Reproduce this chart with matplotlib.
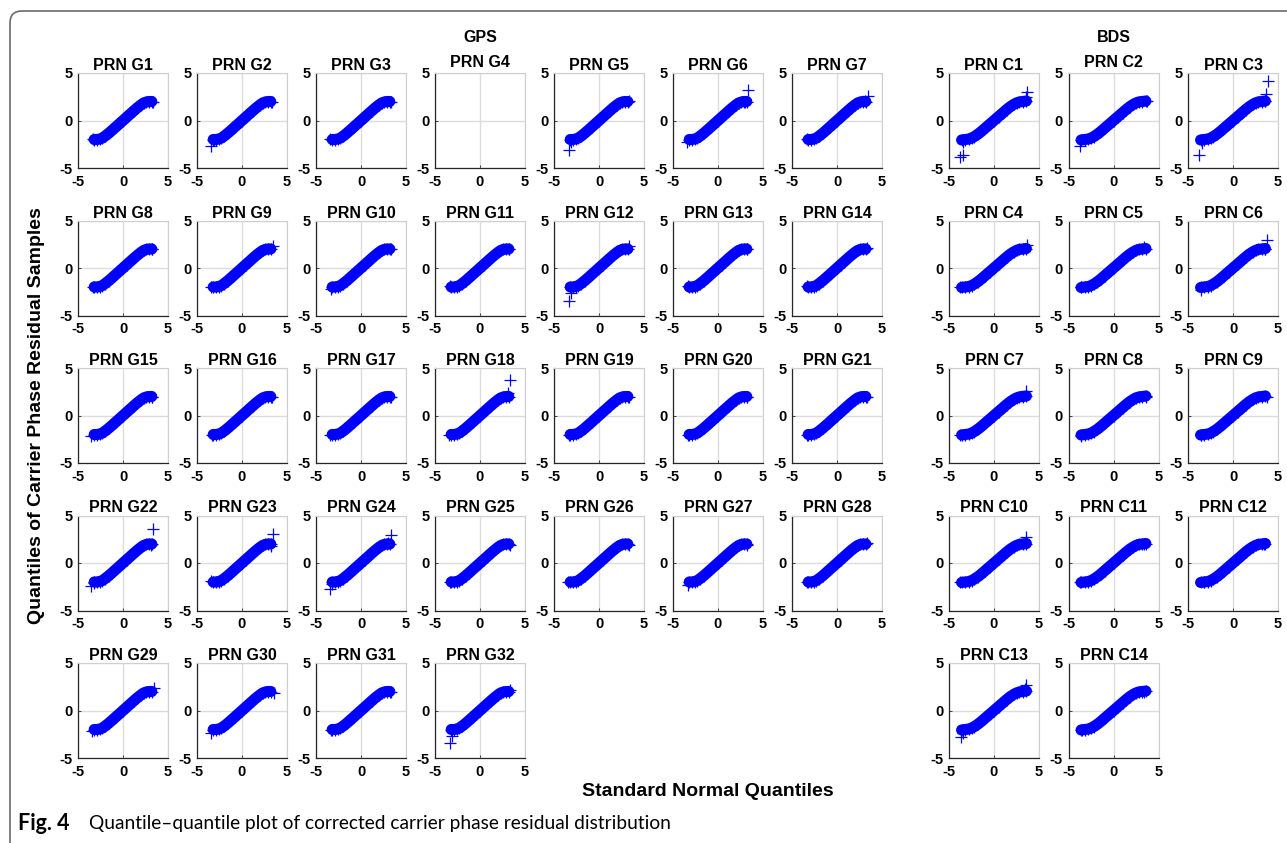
import numpy as np
import matplotlib
matplotlib.use("Agg")
from matplotlib import pyplot as plt
from matplotlib.patches import FancyBboxPatch

# common body of the sample quantiles
GPS_BODY_X = [-3.2, -2.9, -2.6, -2.3, -2.0, -1.6, -1.2, -0.8, -0.4, 0.0,
              0.4, 0.8, 1.2, 1.6, 2.0, 2.3, 2.6, 2.9, 3.2]
GPS_BODY_Y = [-2.0, -2.0, -1.95, -1.85, -1.65, -1.35, -1.02, -0.68, -0.34, 0.0,
              0.34, 0.68, 1.02, 1.35, 1.65, 1.85, 1.95, 2.0, 2.0]
BDS_BODY_X = [-3.6, -3.2, -2.8, -2.5, -2.2, -1.8, -1.4, -1.0, -0.5, 0.0,
              0.5, 1.0, 1.4, 1.8, 2.2, 2.5, 2.8, 3.2, 3.6]
BDS_BODY_Y = [-2.05, -2.0, -1.95, -1.85, -1.7, -1.45, -1.15, -0.82, -0.41, 0.0,
              0.41, 0.82, 1.15, 1.45, 1.7, 1.85, 1.95, 2.0, 2.05]

GPS_PRN = ["G%d" % i for i in range(1, 33)]
BDS_PRN = ["C%d" % i for i in range(1, 15)]
EMPTY = ["G4"]

# extreme points at the lower end (x, y)
LOW_TAIL = {
    "G1": [(-3.3, -1.9)], "G2": [(-3.44, -2.7), (-3.1, -2.1)], "G3": [(-3.44, -1.93)],
    "G5": [(-3.38, -3.1), (-3.16, -2.25)], "G6": [(-3.42, -2.28)], "G7": [(-3.35, -1.9)],
    "G8": [(-3.33, -2.0)], "G9": [(-3.44, -2.0)], "G10": [(-3.37, -2.2)],
    "G11": [(-3.35, -1.93)], "G12": [(-3.38, -3.5), (-3.1, -2.6)], "G13": [(-3.3, -1.93)],
    "G14": [(-3.35, -1.93)],
    "G15": [(-3.52, -2.2)], "G16": [(-3.33, -2.0)], "G17": [(-3.44, -2.0)],
    "G18": [(-3.42, -2.03)], "G19": [(-3.35, -2.03)], "G20": [(-3.3, -2.03)],
    "G21": [(-3.35, -2.03)],
    "G22": [(-3.52, -2.4), (-3.26, -2.1)], "G23": [(-3.44, -1.93)],
    "G24": [(-3.44, -2.7), (-3.26, -2.2)], "G25": [(-3.3, -2.0)], "G26": [(-3.46, -2.0)],
    "G27": [(-3.3, -2.3)], "G28": [(-3.35, -2.0)],
    "G29": [(-3.5, -2.18)], "G30": [(-3.5, -2.36)], "G31": [(-3.35, -2.0)],
    "G32": [(-3.35, -3.4), (-3.1, -2.7)],
    "C1": [(-3.77, -3.86), (-3.4, -3.6), (-3.4, -2.3)], "C2": [(-3.77, -2.7)],
    "C3": [(-3.74, -3.6), (-3.5, -2.35)],
    "C4": [(-3.81, -2.0)], "C5": [(-3.63, -2.0)], "C6": [(-3.52, -2.28)],
    "C7": [(-3.81, -2.03)], "C8": [(-3.63, -2.2)], "C9": [(-3.52, -2.03)],
    "C10": [(-3.74, -2.03)], "C11": [(-3.74, -2.03)], "C12": [(-3.26, -2.03)],
    "C13": [(-3.7, -2.74), (-3.45, -2.4)], "C14": [(-3.5, -2.0)],
}

# extreme points at the upper end (x, y)
HIGH_TAIL = {
    "G1": [(3.33, 2.0)], "G2": [(3.33, 2.0)], "G3": [(3.3, 2.0)],
    "G5": [(3.35, 2.03)], "G6": [(3.38, 3.2), (3.0, 2.0)], "G7": [(3.46, 2.63), (3.1, 2.05)],
    "G8": [(3.26, 2.0)], "G9": [(3.44, 2.35)], "G10": [(3.3, 2.0)],
    "G11": [(3.27, 2.0)], "G12": [(3.35, 2.28)], "G13": [(3.27, 2.0)], "G14": [(3.35, 2.1)],
    "G15": [(3.26, 2.0)], "G16": [(3.33, 2.0)], "G17": [(3.3, 2.0)],
    "G18": [(3.35, 3.75), (3.1, 2.35)], "G19": [(3.35, 2.0)], "G20": [(3.27, 2.0)],
    "G21": [(3.38, 2.0)],
    "G22": [(3.33, 3.6), (3.15, 1.9)], "G23": [(3.44, 3.05), (3.2, 1.8)],
    "G24": [(3.3, 2.9), (3.05, 2.1)], "G25": [(3.3, 1.93)], "G26": [(3.3, 1.93)],
    "G27": [(3.27, 1.93)], "G28": [(3.35, 2.1)],
    "G29": [(3.4, 2.4)], "G30": [(3.5, 1.87)], "G31": [(3.35, 1.94)], "G32": [(3.35, 2.15)],
    "C1": [(3.7, 3.0), (3.5, 2.5)], "C2": [(3.7, 2.03)],
    "C3": [(3.84, 4.2), (3.64, 2.8), (3.55, 2.1)],
    "C4": [(3.67, 2.46)], "C5": [(3.4, 2.18)], "C6": [(3.78, 2.98), (3.6, 2.0)],
    "C7": [(3.6, 2.53)], "C8": [(3.6, 2.0)], "C9": [(3.78, 2.0)],
    "C10": [(3.6, 2.7)], "C11": [(3.4, 2.0)], "C12": [(3.4, 2.0)],
    "C13": [(3.6, 2.7), (3.4, 2.25)], "C14": [(3.4, 1.93)],
}

W, H = 1287, 843
FONT = "Liberation Sans"
BLUE = "#0000ff"

plt.rcParams["axes.unicode_minus"] = False
plt.rcParams["font.family"] = FONT
plt.rcParams["font.weight"] = "bold"

fig = plt.figure(figsize=(W / 100, H / 100), dpi=100)
fig.patch.set_facecolor("white")

# rounded frame around the figure
bg = fig.add_axes([0, 0, 1, 1], zorder=-1)
bg.set_xlim(0, W)
bg.set_ylim(H, 0)
bg.axis("off")
bg.add_patch(FancyBboxPatch((10, 11), 1320, 880, boxstyle="round,pad=0,rounding_size=12",
                            facecolor="none", edgecolor="#6b6b6b", linewidth=1.2))


def make_axes(left, top):
    return fig.add_axes([left / W, 1 - (top + 95) / H, 90 / W, 95 / H])


def draw_panel(ax, prn, body_x, body_y):
    ax.set_xlim(-5, 5)
    ax.set_ylim(-5, 5)
    ax.set_xticks([-5, 0, 5])
    ax.set_yticks([-5, 0, 5])
    ax.grid(True, color="#dcdcdc", linewidth=1.0)
    ax.set_axisbelow(True)
    for s in ["top", "right"]:
        ax.spines[s].set_color("#cfcfcf")
        ax.spines[s].set_linewidth(0.8)
    for s in ["left", "bottom"]:
        ax.spines[s].set_color("#262626")
        ax.spines[s].set_linewidth(0.9)
    ax.tick_params(direction="in", length=2, width=0.6, colors="#262626",
                   labelcolor="black", labelsize=10.5)
    ax.tick_params(axis="y", pad=4)
    ax.tick_params(axis="x", pad=5)
    if prn in EMPTY:
        return
    lx = [p[0] for p in LOW_TAIL[prn]]
    ly = [p[1] for p in LOW_TAIL[prn]]
    hx = [p[0] for p in HIGH_TAIL[prn]]
    hy = [p[1] for p in HIGH_TAIL[prn]]
    xs = np.array(lx[::-1] + body_x + hx)
    ys = np.array(ly[::-1] + body_y + hy)
    # reference line through the quartiles
    q1, q3 = -0.6745, 0.6745
    y1, y3 = np.interp([q1, q3], body_x, body_y)
    k = (y3 - y1) / (q3 - q1)
    ex = np.array([-2.8, 2.8])
    ax.plot(ex, y1 + k * (ex - q1), color="red", linewidth=0.8, linestyle="-.", zorder=2)
    ax.plot(body_x, body_y, color=BLUE, linewidth=8, solid_capstyle="round", zorder=3)
    ax.plot(xs, ys, "+", color=BLUE, markersize=8, markeredgewidth=0.9, zorder=4)


gps_lefts = [78 + 119 * i for i in range(7)]
bds_lefts = [949 + 119.5 * i for i in range(3)]
row_tops = [73 + 147.5 * j for j in range(5)]

for n, prn in enumerate(GPS_PRN):
    r, c = divmod(n, 7)
    ax = make_axes(gps_lefts[c], row_tops[r])
    draw_panel(ax, prn, GPS_BODY_X, GPS_BODY_Y)
    pad = 4.5 if prn == "G4" else 1.5
    ax.set_title("PRN " + prn, fontweight="bold", fontsize=11.5, pad=pad)
    if prn == "G4":
        ax.text(0.5, 1 + 28 / 95, "GPS", transform=ax.transAxes, ha="center", va="bottom",
                fontweight="bold", fontsize=11.5)

for n, prn in enumerate(BDS_PRN):
    r, c = divmod(n, 3)
    ax = make_axes(bds_lefts[c], row_tops[r])
    draw_panel(ax, prn, BDS_BODY_X, BDS_BODY_Y)
    pad = 4.5 if prn == "C2" else 1.5
    ax.set_title("PRN " + prn, fontweight="bold", fontsize=11.5, pad=pad)
    if prn == "C2":
        ax.text(0.5, 1 + 28 / 95, "BDS", transform=ax.transAxes, ha="center", va="bottom",
                fontweight="bold", fontsize=11.5)

fig.text(37 / W, 1 - 416 / H, "Quantiles of Carrier Phase Residual Samples", rotation=90,
         ha="center", va="center", fontweight="bold", fontsize=14)
fig.text(708 / W, 1 - 792 / H, "Standard Normal Quantiles", ha="center", va="center",
         fontweight="bold", fontsize=14)

fig.text(18 / W, 1 - 823 / H, "Fig. 4", ha="left", va="center", fontfamily="Lato",
         fontweight="bold", fontsize=15.5)
fig.text(89 / W, 1 - 823 / H, "Quantile\u2013quantile plot of corrected carrier phase residual distribution",
         ha="left", va="center", fontfamily="Lato", fontweight="normal", fontsize=13.8)

fig.savefig("out.png", dpi=100)
